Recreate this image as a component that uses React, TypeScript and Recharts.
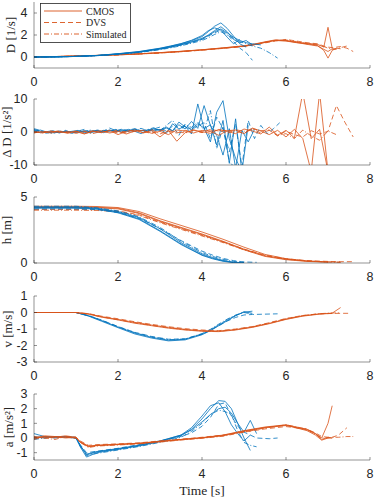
import { Line, LineChart, XAxis, YAxis } from "recharts";

const BLUE = "#0072BD";
const ORANGE = "#D95319";
const AX = "#262626";
const DASH = "5 3";
const DOTDASH = "5 2 1 2";

const xTicks = [0, 2, 4, 6, 8];

// D [1/s]
const dTimeB = [0, 0.5, 1, 1.5, 2, 2.5, 3, 3.25, 3.5, 3.75, 4, 4.15, 4.3, 4.45, 4.6, 4.75, 4.9, 5.05, 5.2, 5.4, 5.6, 5.8];
const dB1 = [0, 0.01, 0.05, 0.13, 0.27, 0.45, 0.74, 0.94, 1.14, 1.4, 1.7, 2.0, 2.4, 2.75, 2.3, 1.6, 1.3, 1.5, 1.1];
const dB2 = [0, 0.01, 0.06, 0.14, 0.29, 0.48, 0.78, 0.98, 1.2, 1.48, 1.85, 2.3, 2.8, 3.1, 2.6, 1.9, 1.2, 0.9];
const dB3 = [0, 0.01, 0.05, 0.12, 0.26, 0.43, 0.7, 0.88, 1.08, 1.32, 1.6, 1.9, 2.2, 2.45, 2.1, 1.4, 0.8, 0.4, -0.3];
const dB4 = [0, 0.01, 0.05, 0.12, 0.25, 0.41, 0.66, 0.83, 1.02, 1.25, 1.5, 1.75, 2.05, 2.3, 2.0, 1.7, 1.4, 1.2, 1.0, 0.8, 0.4, -0.1];
const dB5 = [0, 0.01, 0.06, 0.14, 0.3, 0.5, 0.8, 1.0, 1.22, 1.52, 1.95, 2.4, 2.65, 2.45, 1.8, 1.2, 1.6];
const dB6 = [0, 0.01, 0.05, 0.13, 0.27, 0.44, 0.72, 0.9, 1.1, 1.35, 1.62, 1.95, 2.3, 2.55, 2.2, 1.8, 1.5, 1.3, 1.2, 1.1];
const dTimeO = [0, 0.5, 1, 1.5, 2, 2.5, 3, 3.5, 4, 4.5, 5, 5.25, 5.5, 5.75, 6, 6.25, 6.5, 6.75, 6.9, 7.0, 7.1, 7.2, 7.3, 7.45, 7.6];
const dO1 = [0, 0.04, 0.09, 0.14, 0.2, 0.28, 0.38, 0.5, 0.64, 0.8, 0.98, 1.12, 1.32, 1.5, 1.45, 1.3, 1.2, 1.05, 0.6, -0.1, 0.6, 0.8, 0.75];
const dO2 = [0, 0.04, 0.1, 0.15, 0.21, 0.29, 0.4, 0.52, 0.66, 0.83, 1.02, 1.18, 1.38, 1.56, 1.5, 1.35, 1.25, 1.15, 0.9, 2.7, 0.8];
const dO3 = [0, 0.03, 0.08, 0.13, 0.19, 0.27, 0.36, 0.48, 0.62, 0.78, 0.96, 1.1, 1.28, 1.45, 1.6, 1.45, 1.3, 1.2, 1.0, 0.9, 0.85, 0.9, 0.95, 0.8, 0.5];
const dO4 = [0, 0.04, 0.09, 0.14, 0.2, 0.28, 0.37, 0.49, 0.63, 0.8, 0.97, 1.13, 1.33, 1.5, 1.55, 1.4, 1.2, 1.1, 0.95, 0.8, 0.7, 0.75, 0.85, 1.0];
const dO5 = [0, 0.04, 0.09, 0.14, 0.2, 0.28, 0.39, 0.51, 0.65, 0.82, 1.0, 1.16, 1.35, 1.52, 1.48, 1.32, 1.15, 1.0, 0.7, 0.5, 0.75, 0.7];

// rate of D [1/s^2]
const rTimeB = [0, 0.15, 0.3, 0.45, 0.6, 0.75, 0.9, 1.05, 1.2, 1.35, 1.5, 1.65, 1.8, 1.95, 2.1, 2.25, 2.4, 2.55, 2.7, 2.85, 3, 3.15, 3.3, 3.45, 3.6, 3.75, 3.9, 4.05, 4.2, 4.35, 4.5, 4.65, 4.8, 4.95, 5.1, 5.25, 5.4, 5.55, 5.7, 5.85];
const rB1 = [0.8, 0.2, -0.3, 0.1, -0.2, 0.3, -0.4, 0.2, 0.1, -0.3, 0.5, -0.2, 0.3, 0.6, -0.1, 0.4, 0.2, -0.5, 0.6, 0.3, 0.8, -0.4, 2.5, 0.9, 1.8, -0.6, 8.5, 1.0, 2.2, -4.0, 3.5, -9.5, 4.0, -12, 2.0];
const rB2 = [0.3, -0.2, 0.1, 0.4, -0.3, 0.2, 0.1, -0.2, 0.4, 0.2, -0.1, 0.3, 0.5, 0.2, 0.7, 0.3, 0.9, 0.4, 0.6, 1.0, 0.5, 1.2, 0.3, 3.0, 1.5, 0.8, 2.5, 1.2, -3.0, 6.0, 9.5, -2.0, -8.0, -12];
const rB3 = [1.0, 0.5, -0.4, 0.2, -0.1, 0.5, -0.3, 0.3, 0.8, -0.2, 0.6, 0.3, 1.2, 0.4, 0.9, 0.2, 0.7, 1.1, 0.4, 0.9, 1.5, 0.2, 1.8, -1.0, 2.4, 0.6, 1.9, 2.8, -2.0, 4.5, 1.0, -6.0, 2.5, -10.5, 3.5, -2.0, 2.0, -0.5, 1.0, 2.8];
const rB4 = [0.5, 0.1, -0.2, -0.5, 0.2, 0.1, -0.3, 0.4, 0.2, 0.6, 0.1, 0.5, 0.3, 0.8, 0.2, 0.6, 1.0, 0.3, 0.7, 1.3, 0.4, 2.0, 3.5, 0.8, 2.2, 1.4, 3.0, 0.5, 6.5, -5.0, 1.5, -9.0, -11];
const rB5 = [0.2, 0.6, 0.0, -0.2, 0.3, -0.1, 0.2, 0.5, -0.2, 0.3, 0.4, 0.1, 0.6, 0.2, 0.4, 0.8, 0.3, 0.5, 0.2, 0.9, 0.6, 1.5, 0.4, 2.2, 0.9, 3.2, 1.1, 8.0, 2.0, -1.0, -7.0, 1.0, -11, 0.5, -3.0, 0.8];
const rTimeO = [0, 0.2, 0.4, 0.6, 0.8, 1, 1.2, 1.4, 1.6, 1.8, 2, 2.2, 2.4, 2.6, 2.8, 3, 3.2, 3.4, 3.6, 3.8, 4, 4.2, 4.4, 4.6, 4.8, 5, 5.2, 5.4, 5.6, 5.8, 6, 6.2, 6.4, 6.6, 6.8, 7, 7.2, 7.4, 7.6];
const rO1 = [-0.2, 0.1, -0.3, 0.2, -0.4, 0.1, -0.6, 0.3, -0.2, 0.5, -0.8, 0.2, 0.6, -0.3, 0.4, -1.5, 0.5, -2.8, -0.2, 0.6, 0.1, -0.4, 0.8, 0.2, -0.5, 0.9, 0.3, -0.6, 1.5, -1.0, 0.5, -1.8, 12, -2.0, 0.8, -12];
const rO2 = [0.1, -0.3, 0.2, 0.0, -0.2, 0.3, -0.5, 0.1, 0.4, -0.3, 0.2, -0.6, 0.3, 0.5, -0.4, 0.2, -0.8, 0.6, 0.3, -0.3, 0.5, 0.2, -1.0, 0.4, 0.6, -0.5, 1.2, 0.3, -0.8, 0.5, -1.5, 0.8, -2.0, -12, 12, -12];
const rO3 = [0.0, -0.2, 0.3, -0.1, 0.2, -0.4, 0.1, 0.3, -0.2, 0.4, -0.3, 0.2, 0.5, 0.1, -0.4, 0.6, 0.2, -0.3, 0.4, 0.6, -0.2, 0.8, 0.3, 0.5, 0.2, -0.4, 1.0, 0.4, 0.6, -1.2, 0.3, -0.8, -1.5, 0.4, -0.6, 0.2, 8.0, 3.0, -1.5];
const rO4 = [-0.3, 0.2, -0.1, 0.4, -0.2, 0.1, 0.3, -0.5, 0.2, -0.1, 0.6, -0.3, 0.2, -0.2, 0.7, -0.6, 0.4, 0.1, -0.3, 0.5, -0.1, 0.3, 0.6, -0.4, 0.7, 0.2, 0.9, -0.3, 0.5, -1.0, -0.5, -2.0, 0.6, -1.2, -2.5, 0.3, -0.8];

// h [m]
const hTimeB = [0, 0.5, 1, 1.5, 2, 2.5, 3, 3.5, 4, 4.25, 4.5, 4.75, 5, 5.3];
const hB1 = [4.25, 4.25, 4.25, 4.15, 3.9, 3.45, 2.6, 1.55, 0.7, 0.42, 0.2, 0.06, 0.02];
const hB2 = [4.2, 4.2, 4.2, 4.1, 3.85, 3.35, 2.45, 1.45, 0.62, 0.36, 0.16, 0.04, 0.01];
const hB3 = [4.1, 4.1, 4.1, 4.05, 3.82, 3.4, 2.6, 1.7, 0.9, 0.6, 0.35, 0.18, 0.08, 0.05];
const hB4 = [4.3, 4.3, 4.3, 4.18, 3.95, 3.5, 2.7, 1.65, 0.8, 0.5, 0.28, 0.12, 0.05];
const hB5 = [4.15, 4.15, 4.15, 4.08, 3.8, 3.3, 2.4, 1.4, 0.58, 0.32, 0.13, 0.03];
const hTimeO = [0, 0.5, 1, 1.5, 2, 2.5, 3, 3.5, 4, 4.5, 5, 5.5, 6, 6.5, 7, 7.3, 7.6];
const hO1 = [4.25, 4.25, 4.25, 4.22, 4.15, 3.8, 3.2, 2.7, 2.2, 1.65, 1.05, 0.55, 0.28, 0.14, 0.08, 0.06];
const hO2 = [4.3, 4.3, 4.3, 4.28, 4.2, 3.9, 3.35, 2.85, 2.35, 1.8, 1.2, 0.65, 0.33, 0.16, 0.08];
const hO3 = [4.05, 4.05, 4.05, 4.03, 3.95, 3.65, 3.1, 2.6, 2.1, 1.6, 1.05, 0.6, 0.32, 0.18, 0.12, 0.1, 0.1];
const hO4 = [4.0, 4.0, 4.0, 3.98, 3.9, 3.6, 3.05, 2.55, 2.05, 1.55, 1.0, 0.55, 0.3, 0.15, 0.08, 0.06];
const hO5 = [4.2, 4.2, 4.2, 4.18, 4.1, 3.75, 3.15, 2.65, 2.15, 1.6, 1.0, 0.5, 0.25, 0.12, 0.06];

// v [m/s]
const vTimeB = [0, 0.5, 1, 1.3, 1.6, 2, 2.4, 2.8, 3.2, 3.6, 4, 4.2, 4.4, 4.6, 4.8, 5, 5.2, 5.5, 5.8];
const vB1 = [0, 0, 0, -0.2, -0.48, -0.88, -1.25, -1.5, -1.68, -1.62, -1.3, -1.05, -0.75, -0.45, -0.18, 0.02, 0.08];
const vB2 = [0, 0, 0, -0.22, -0.52, -0.92, -1.3, -1.55, -1.72, -1.66, -1.35, -1.1, -0.8, -0.5, -0.2, 0.05, -0.05];
const vB3 = [0, 0, 0, -0.18, -0.45, -0.85, -1.2, -1.45, -1.62, -1.6, -1.32, -1.08, -0.8, -0.52, -0.3, -0.15, -0.12, -0.1, -0.08];
const vB4 = [0, 0, 0, -0.2, -0.46, -0.86, -1.22, -1.48, -1.65, -1.6, -1.28, -1.02, -0.7, -0.4, -0.15, 0.0, -0.1];
const vTimeO = [0, 0.5, 1, 1.3, 1.6, 2, 2.4, 2.8, 3.2, 3.6, 4, 4.4, 4.8, 5.2, 5.6, 6, 6.4, 6.8, 7.1, 7.3, 7.5];
const vO1 = [0, 0, 0, -0.08, -0.25, -0.42, -0.6, -0.76, -0.9, -1.02, -1.1, -1.13, -1.03, -0.88, -0.66, -0.4, -0.2, -0.08, -0.04, 0.3];
const vO2 = [0, 0, 0, -0.1, -0.28, -0.45, -0.65, -0.8, -0.95, -1.06, -1.14, -1.16, -1.06, -0.9, -0.68, -0.42, -0.22, -0.1, -0.05];
const vO3 = [0, 0, 0, -0.07, -0.22, -0.38, -0.56, -0.72, -0.86, -0.98, -1.06, -1.1, -1.0, -0.85, -0.62, -0.36, -0.18, -0.08, -0.06, -0.05, -0.05];
const vO4 = [0, 0, 0, -0.09, -0.26, -0.44, -0.62, -0.78, -0.92, -1.04, -1.12, -1.14, -1.04, -0.87, -0.64, -0.38, -0.19, -0.07, -0.03, -0.02];

// a [m/s^2]
const aTimeB = [0, 0.25, 0.5, 0.75, 1, 1.1, 1.25, 1.5, 2, 2.5, 3, 3.5, 3.75, 4, 4.2, 4.4, 4.55, 4.7, 4.85, 5, 5.15, 5.3, 5.6, 5.8];
const aB1 = [0.3, 0.1, 0.05, 0.1, 0.0, -0.6, -1.3, -1.0, -0.78, -0.55, -0.25, 0.15, 0.6, 1.3, 2.0, 2.55, 2.5, 2.0, 1.0, 0.0, -0.85];
const aB2 = [0.0, 0.05, 0.1, 0.05, 0.0, -0.5, -1.15, -0.95, -0.75, -0.5, -0.2, 0.2, 0.55, 1.1, 1.6, 2.0, 2.1, 1.7, 1.0, 0.4, 1.2, 0.3];
const aB3 = [0.1, 0.0, 0.05, 0.1, 0.0, -0.45, -1.0, -0.9, -0.7, -0.45, -0.2, 0.1, 0.35, 0.8, 1.4, 2.3, 2.4, 1.5, 0.8, 0.4, 0.2, 0.0, -0.05, 0.0];
const aB4 = [-0.1, 0.0, 0.1, 0.05, 0.0, -0.55, -1.2, -1.05, -0.82, -0.58, -0.3, 0.05, 0.45, 1.0, 1.6, 1.9, 1.8, 1.6, 0.5, -0.3, -0.5, -0.6];
const aB5 = [0.0, 0.1, 0.0, 0.1, 0.05, -0.5, -1.1, -0.92, -0.72, -0.5, -0.22, 0.2, 0.7, 1.5, 2.2, 2.4, 1.8, 0.9, 0.3, -0.2, 0.2];
const aTimeO = [0, 0.25, 0.5, 0.75, 1, 1.1, 1.3, 1.5, 2, 2.5, 3, 3.5, 4, 4.5, 5, 5.5, 6, 6.5, 6.7, 6.85, 7.0, 7.1, 7.25, 7.45, 7.6];
const aO1 = [0.0, 0.1, 0.05, 0.15, 0.05, -0.3, -0.6, -0.5, -0.45, -0.38, -0.25, -0.12, 0.0, 0.15, 0.45, 0.7, 0.85, 0.55, 0.3, -0.1, 0.05, 0.0];
const aO2 = [0.1, 0.0, 0.1, 0.05, 0.0, -0.25, -0.55, -0.5, -0.42, -0.36, -0.22, -0.1, 0.02, 0.2, 0.5, 0.75, 0.9, 0.6, 0.3, 0.0, 1.0, 2.2];
const aO3 = [-0.1, 0.1, 0.0, 0.1, 0.05, -0.2, -0.5, -0.45, -0.4, -0.33, -0.2, -0.08, 0.05, 0.2, 0.4, 0.62, 0.78, 0.6, 0.35, 0.1, 0.05, 0.05, 0.2, 0.7];
const aO4 = [0.05, 0.0, -0.1, 0.1, 0.0, -0.3, -0.65, -0.55, -0.48, -0.4, -0.28, -0.14, -0.02, 0.12, 0.4, 0.68, 0.9, 0.6, 0.25, 0.0, 0.0, 0.05, 0.05, 0.1, 0.1];
const aO5 = [0.0, 0.15, 0.1, 0.0, 0.05, -0.28, -0.58, -0.52, -0.44, -0.36, -0.24, -0.1, 0.02, 0.18, 0.48, 0.72, 0.88, 0.5, 0.2, -0.15, 0.0, 0.0];

type Series = { ts: number[]; ys: number[]; color: string; dash?: string };

const zip = (ts: number[], ys: number[]) => ys.map((y, i) => ({ t: ts[i], y }));

const s = (ts: number[], ys: number[], color: string, dash?: string): Series => ({ ts, ys, color, dash });

const panels = [
  {
    label: "D [1/s]",
    labelX: 11,
    domain: [-1, 5],
    ticks: [0, 2, 4],
    series: [
      s(dTimeO, dO1, ORANGE), s(dTimeO, dO2, ORANGE), s(dTimeO, dO5, ORANGE),
      s(dTimeO, dO3, ORANGE, DASH), s(dTimeO, dO4, ORANGE, DOTDASH),
      s(dTimeB, dB1, BLUE), s(dTimeB, dB2, BLUE), s(dTimeB, dB5, BLUE), s(dTimeB, dB6, BLUE),
      s(dTimeB, dB3, BLUE, DASH), s(dTimeB, dB4, BLUE, DOTDASH),
    ],
  },
  {
    label: "Δ D [1/s²]",
    labelX: 7,
    domain: [-10, 10],
    ticks: [-10, 0, 10],
    series: [
      s(rTimeB, rB1, BLUE), s(rTimeB, rB2, BLUE), s(rTimeB, rB5, BLUE),
      s(rTimeB, rB3, BLUE, DASH), s(rTimeB, rB4, BLUE, DOTDASH),
      s(rTimeO, rO1, ORANGE), s(rTimeO, rO2, ORANGE),
      s(rTimeO, rO3, ORANGE, DASH), s(rTimeO, rO4, ORANGE, DOTDASH),
    ],
  },
  {
    label: "h [m]",
    labelX: 7,
    domain: [0, 5],
    ticks: [0, 5],
    series: [
      s(hTimeO, hO1, ORANGE), s(hTimeO, hO2, ORANGE), s(hTimeO, hO5, ORANGE),
      s(hTimeO, hO3, ORANGE, DASH), s(hTimeO, hO4, ORANGE, DOTDASH),
      s(hTimeB, hB1, BLUE), s(hTimeB, hB2, BLUE), s(hTimeB, hB5, BLUE),
      s(hTimeB, hB3, BLUE, DASH), s(hTimeB, hB4, BLUE, DOTDASH),
    ],
  },
  {
    label: "v [m/s]",
    labelX: 8,
    domain: [-3, 1],
    ticks: [-3, -2, -1, 0, 1],
    series: [
      s(vTimeB, vB1, BLUE), s(vTimeB, vB2, BLUE),
      s(vTimeB, vB3, BLUE, DASH), s(vTimeB, vB4, BLUE, DOTDASH),
      s(vTimeO, vO1, ORANGE), s(vTimeO, vO2, ORANGE),
      s(vTimeO, vO3, ORANGE, DASH), s(vTimeO, vO4, ORANGE, DOTDASH),
    ],
  },
  {
    label: "a [m/s²]",
    labelX: 9,
    domain: [-1.5, 3],
    ticks: [-1, 0, 1, 2, 3],
    series: [
      s(aTimeB, aB1, BLUE), s(aTimeB, aB2, BLUE), s(aTimeB, aB5, BLUE),
      s(aTimeB, aB3, BLUE, DASH), s(aTimeB, aB4, BLUE, DOTDASH),
      s(aTimeO, aO1, ORANGE), s(aTimeO, aO2, ORANGE), s(aTimeO, aO5, ORANGE),
      s(aTimeO, aO3, ORANGE, DASH), s(aTimeO, aO4, ORANGE, DOTDASH),
    ],
  },
];

const panelTops = [2, 99, 197, 296, 394];
const PLOT_H = 66;
const PAD = 8; // room above the plot so the top tick label is not clipped

const tickFont = { fill: AX, fontSize: 12.5, fontFamily: "'Liberation Sans', Arial, sans-serif" };
const axisLine = { stroke: AX, strokeWidth: 0.5 };
const serif = "'Liberation Serif', 'Times New Roman', serif";

function Panel({ top, label, labelX, domain, ticks, series }: any) {
  return (
    <div style={{ position: "absolute", left: 0, top: top - PAD }}>
      <LineChart width={374} height={PLOT_H + PAD + 30} margin={{ top: PAD, right: 4, bottom: 0, left: 0 }}>
        <XAxis
          xAxisId="b"
          type="number"
          dataKey="t"
          domain={[0, 8]}
          ticks={xTicks}
          interval={0}
          allowDataOverflow
          height={30}
          tickSize={-3}
          tickMargin={12.5}
          axisLine={axisLine}
          tickLine={axisLine}
          tick={tickFont}
        />
        <XAxis
          xAxisId="t"
          orientation="top"
          type="number"
          dataKey="t"
          domain={[0, 8]}
          ticks={xTicks}
          interval={0}
          allowDataOverflow
          height={0}
          tickSize={-3}
          tickFormatter={() => ""}
          axisLine={axisLine}
          tickLine={axisLine}
        />
        <YAxis
          yAxisId="l"
          type="number"
          domain={domain}
          ticks={ticks}
          interval={0}
          allowDataOverflow
          width={34}
          tickSize={-3}
          tickMargin={9.5}
          axisLine={axisLine}
          tickLine={axisLine}
          tick={tickFont}
        />
        <YAxis
          yAxisId="r"
          orientation="right"
          type="number"
          domain={domain}
          ticks={ticks}
          interval={0}
          allowDataOverflow
          width={0}
          tickSize={-3}
          tickFormatter={() => ""}
          axisLine={axisLine}
          tickLine={axisLine}
        />
        {series.map((sr: Series, i: number) => (
          <Line
            key={i}
            xAxisId="b"
            yAxisId="l"
            data={zip(sr.ts, sr.ys)}
            dataKey="y"
            type="linear"
            stroke={sr.color}
            strokeWidth={0.8}
            strokeDasharray={sr.dash}
            dot={false}
            activeDot={false}
            isAnimationActive={false}
          />
        ))}
      </LineChart>
      <div
        style={{
          position: "absolute",
          left: labelX,
          top: PAD + PLOT_H / 2,
          transform: "translate(-50%, -50%) rotate(-90deg)",
          whiteSpace: "nowrap",
          fontFamily: serif,
          fontSize: 13,
          color: AX,
        }}
      >
        {label}
      </div>
    </div>
  );
}

const legendItems = [
  { name: "CMOS", dash: undefined, y: 8 },
  { name: "DVS", dash: DASH, y: 19.5 },
  { name: "Simulated", dash: DOTDASH, y: 31 },
];

function Legend() {
  return (
    <svg width={92} height={41} style={{ position: "absolute", left: 39.5, top: 2.5 }}>
      <rect x={0.5} y={0.5} width={90} height={39} fill="#fff" stroke={AX} strokeWidth={0.8} />
      {legendItems.map((it) => (
        <g key={it.name}>
          <line x1={4} x2={42} y1={it.y} y2={it.y} stroke={ORANGE} strokeWidth={0.9} strokeDasharray={it.dash} />
          <text x={46} y={it.y + 3.5} fontFamily={serif} fontSize={10} fill={AX}>
            {it.name}
          </text>
        </g>
      ))}
    </svg>
  );
}

export default function App() {
  return (
    <div style={{ position: "absolute", left: 0, top: 0, width: 374, height: 500, background: "#fff" }}>
      {panels.map((p, i) => (
        <Panel key={p.label} top={panelTops[i]} {...p} />
      ))}
      <Legend />
      <div
        style={{
          position: "absolute",
          left: 202,
          top: 491,
          transform: "translate(-50%, -50%)",
          whiteSpace: "nowrap",
          fontFamily: serif,
          fontSize: 13.5,
          color: AX,
        }}
      >
        Time [s]
      </div>
    </div>
  );
}
